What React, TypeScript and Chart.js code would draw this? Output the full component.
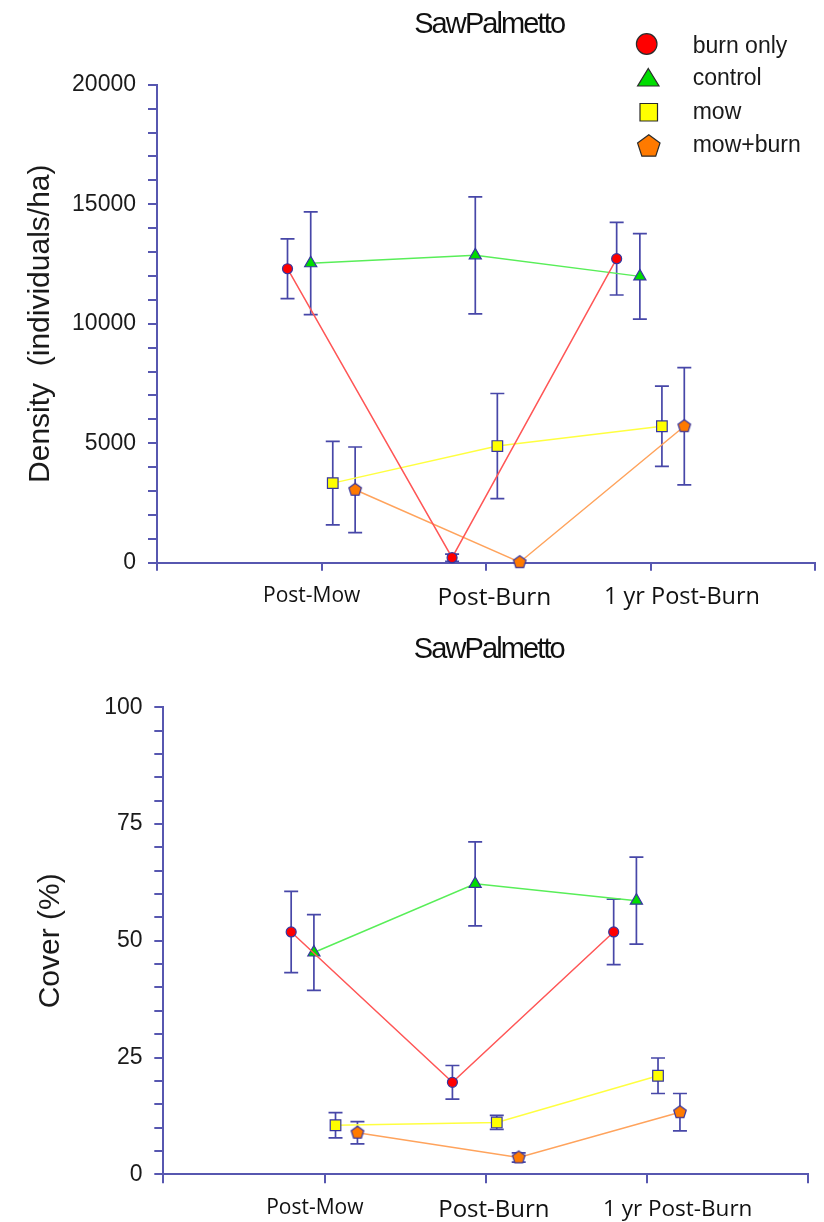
import React, { useEffect, useRef } from 'react';
import { Chart, registerables } from 'chart.js';

Chart.register(...registerables);

// ---------- data ----------
const CATEGORIES = ['Post-Mow', 'Post-Burn', '1 yr Post-Burn'];
const SERIES = ['burn only', 'control', 'mow', 'mow+burn'];

const DENSITY_BURN_ONLY = [12300, 210, 12720];
const DENSITY_BURN_ONLY_ERR = [1250, 150, 1520];
const DENSITY_CONTROL = [12530, 12860, 11980];
const DENSITY_CONTROL_ERR = [2150, 2450, 1790];
const DENSITY_MOW = [3330, 4880, 5710];
const DENSITY_MOW_ERR = [1750, 2200, 1680];
const DENSITY_MOW_BURN = [3050, 20, 5710];
const DENSITY_MOW_BURN_ERR = [1790, 0, 2450];

const COVER_BURN_ONLY = [51.9, 19.7, 51.9];
const COVER_BURN_ONLY_ERR = [8.7, 3.6, 7.0];
const COVER_CONTROL = [47.5, 62.2, 58.6];
const COVER_CONTROL_ERR = [8.1, 9.0, 9.3];
const COVER_MOW = [10.5, 11.1, 21.1];
const COVER_MOW_ERR = [2.7, 1.5, 3.8];
const COVER_MOW_BURN = [8.9, 3.6, 13.3];
const COVER_MOW_BURN_ERR = [2.4, 1.0, 4.0];

const DENSITY_TICK_LABELS = [0, 5000, 10000, 15000, 20000];
const COVER_TICK_LABELS = [0, 25, 50, 75, 100];

// ---------- styles / layout ----------
const AXIS_COLOR = '#5757b0';
const ERR_COLOR = '#4747a8';
const POINT_BORDER = '#3636a0';
const TEXT_COLOR = '#1a1a1a';
const LINE_COLORS = ['#ff5656', '#58ee58', '#ffff40', '#ffa35c'];
const FILL_COLORS = ['#ff0000', '#00dd00', '#ffff00', '#ff7a00'];
const POINT_RADII = [5, 7, 7.5, 7];
const DODGE = [-0.207, -0.066, 0.068, 0.204];
const LABEL_POS = [0.94, 2.05, 3.19];
const SANS = '"Liberation Sans", Arial, sans-serif';
const LABEL_FONT = '"Open Sans", "Noto Sans", sans-serif';

type Spec = {
  height: number;
  yMax: number;
  yStep: number;
  yLabels: number[];
  yTitle: string;
  yTitlePad: number;
  yAxisWidth: number;
  yTickPad: number;
  areaTop: number;
  padRight: number;
  xTickLen: number;
  labelAxisHeight: number;
  labelSizes: number[];
  titleBaseline: number;
  titleDx: number;
  legend: boolean;
  series: number[][];
  errors: number[][];
};

const TOP: Spec = {
  height: 612,
  yMax: 20000,
  yStep: 1000,
  yLabels: DENSITY_TICK_LABELS,
  yTitle: 'Density  (individuals/ha)',
  yTitlePad: 23,
  yAxisWidth: 157,
  yTickPad: 12,
  areaTop: 84.7,
  padRight: 3,
  xTickLen: 8,
  labelAxisHeight: 41.3,
  labelSizes: [21, 24.5, 23.5],
  titleBaseline: 33.3,
  titleDx: 3,
  legend: true,
  series: [DENSITY_BURN_ONLY, DENSITY_CONTROL, DENSITY_MOW, DENSITY_MOW_BURN],
  errors: [DENSITY_BURN_ONLY_ERR, DENSITY_CONTROL_ERR, DENSITY_MOW_ERR, DENSITY_MOW_BURN_ERR],
};

const BOTTOM: Spec = {
  height: 610,
  yMax: 100,
  yStep: 5,
  yLabels: COVER_TICK_LABELS,
  yTitle: 'Cover (%)',
  yTitlePad: 33,
  yAxisWidth: 163.3,
  yTickPad: 11.7,
  areaTop: 95.3,
  padRight: 15.7,
  xTickLen: 9,
  labelAxisHeight: 38.7,
  labelSizes: [21, 24, 22.5],
  titleBaseline: 46.3,
  titleDx: 3,
  legend: false,
  series: [COVER_BURN_ONLY, COVER_CONTROL, COVER_MOW, COVER_MOW_BURN],
  errors: [COVER_BURN_ONLY_ERR, COVER_CONTROL_ERR, COVER_MOW_ERR, COVER_MOW_BURN_ERR],
};

function pentagonPath(ctx: CanvasRenderingContext2D, cx: number, cy: number, r: number) {
  ctx.beginPath();
  for (let k = 0; k < 5; k++) {
    const a = -Math.PI / 2 + (k * 2 * Math.PI) / 5;
    const px = cx + r * Math.cos(a);
    const py = cy + r * Math.sin(a);
    if (k === 0) ctx.moveTo(px, py);
    else ctx.lineTo(px, py);
  }
  ctx.closePath();
}

function makePentagon(r: number, fill: string, stroke: string, lw: number) {
  const size = Math.ceil(2 * r + 2 * lw + 2);
  const c = document.createElement('canvas');
  c.width = size;
  c.height = size;
  const g = c.getContext('2d')!;
  pentagonPath(g, size / 2, size / 2, r);
  g.fillStyle = fill;
  g.fill();
  g.strokeStyle = stroke;
  g.lineWidth = lw;
  g.stroke();
  return c;
}

const errorBarPlugin = {
  id: 'errorBars',
  beforeDatasetsDraw(chart: any) {
    const { ctx } = chart;
    const xs = chart.scales.x;
    const ys = chart.scales.y;
    ctx.save();
    ctx.strokeStyle = ERR_COLOR;
    ctx.lineWidth = 1.7;
    chart.data.datasets.forEach((ds: any) => {
      ds.data.forEach((p: any) => {
        if (!p.err) return;
        const px = xs.getPixelForValue(p.x);
        const top = ys.getPixelForValue(p.y + p.err);
        const bot = ys.getPixelForValue(p.y - p.err);
        ctx.beginPath();
        ctx.moveTo(px, top);
        ctx.lineTo(px, bot);
        ctx.moveTo(px - 7, top);
        ctx.lineTo(px + 7, top);
        ctx.moveTo(px - 7, bot);
        ctx.lineTo(px + 7, bot);
        ctx.stroke();
      });
    });
    ctx.restore();
  },
};

function makeTitlePlugin(text: string, baseline: number, dx: number) {
  return {
    id: 'sawTitle',
    afterDraw(chart: any) {
      const { ctx, chartArea } = chart;
      ctx.save();
      ctx.font = `29px ${SANS}`;
      (ctx as any).letterSpacing = '-1.9px';
      ctx.fillStyle = '#111';
      ctx.textAlign = 'center';
      ctx.textBaseline = 'alphabetic';
      ctx.fillText(text, (chartArea.left + chartArea.right) / 2 + dx, baseline);
      ctx.restore();
    },
  };
}

const legendPlugin = {
  id: 'sawLegend',
  afterDraw(chart: any) {
    const { ctx } = chart;
    const stroke = '#2b2b2b';
    ctx.save();
    ctx.lineWidth = 1.2;
    ctx.strokeStyle = stroke;
    // circle
    ctx.beginPath();
    ctx.arc(646.7, 44, 10.3, 0, Math.PI * 2);
    ctx.fillStyle = FILL_COLORS[0];
    ctx.fill();
    ctx.stroke();
    // triangle
    ctx.beginPath();
    ctx.moveTo(648.3, 68.5);
    ctx.lineTo(659, 86);
    ctx.lineTo(637.6, 86);
    ctx.closePath();
    ctx.fillStyle = FILL_COLORS[1];
    ctx.fill();
    ctx.stroke();
    // square
    ctx.beginPath();
    ctx.rect(640, 103.5, 17.5, 17.5);
    ctx.fillStyle = FILL_COLORS[2];
    ctx.fill();
    ctx.stroke();
    // pentagon
    pentagonPath(ctx, 648.8, 146.6, 11.8);
    ctx.fillStyle = FILL_COLORS[3];
    ctx.fill();
    ctx.stroke();
    // labels
    ctx.fillStyle = TEXT_COLOR;
    ctx.font = `23px ${SANS}`;
    ctx.textAlign = 'left';
    ctx.textBaseline = 'alphabetic';
    const baselines = [52.8, 85.2, 118.6, 152];
    SERIES.forEach((s, i) => ctx.fillText(s, 692.7, baselines[i]));
    ctx.restore();
  },
};

function ChartPanel({ spec }: { spec: Spec }) {
  const ref = useRef<HTMLCanvasElement>(null);
  useEffect(() => {
    const canvas = ref.current!;
    const pent = makePentagon(6.6, FILL_COLORS[3], POINT_BORDER, 1.2);
    const styles: any[] = ['circle', 'triangle', 'rect', pent];
    const datasets = spec.series.map((vals, s) => ({
      label: SERIES[s],
      data: vals.map((v, i) => ({ x: i + 1 + DODGE[s], y: v, err: spec.errors[s][i] })),
      showLine: true,
      borderColor: LINE_COLORS[s],
      borderWidth: 1.5,
      pointStyle: styles[s],
      pointRadius: POINT_RADII[s],
      pointBackgroundColor: FILL_COLORS[s],
      pointBorderColor: POINT_BORDER,
      pointBorderWidth: 1.2,
      clip: false as any,
    }));
    const plugins: any[] = [errorBarPlugin, makeTitlePlugin('SawPalmetto', spec.titleBaseline, spec.titleDx)];
    if (spec.legend) plugins.push(legendPlugin);
    const chart = new Chart(canvas, {
      type: 'scatter',
      data: { datasets: datasets as any },
      plugins,
      options: {
        animation: false,
        responsive: false,
        devicePixelRatio: 1,
        events: [],
        layout: { padding: { top: spec.areaTop, right: spec.padRight, left: 0, bottom: 0 } },
        plugins: { legend: { display: false }, title: { display: false }, tooltip: { enabled: false } },
        scales: {
          x: {
            type: 'linear',
            position: 'bottom',
            weight: 0,
            min: 0,
            max: 4,
            ticks: { stepSize: 1, display: false },
            grid: { drawOnChartArea: false, drawTicks: true, tickLength: spec.xTickLen, color: AXIS_COLOR, lineWidth: 2 },
            border: { color: AXIS_COLOR, width: 2 },
            afterFit: (s: any) => { s.height = spec.xTickLen; },
          },
          xl: {
            type: 'linear',
            position: 'bottom',
            weight: 1,
            min: 0,
            max: 4,
            grid: { display: false, drawTicks: false },
            border: { display: false },
            afterBuildTicks: (s: any) => { s.ticks = LABEL_POS.map((v) => ({ value: v })); },
            ticks: {
              autoSkip: false,
              maxRotation: 0,
              minRotation: 0,
              padding: 12.5,
              color: '#111',
              callback: (_v: any, i: number) => CATEGORIES[i],
              font: (c: any) => ({ family: LABEL_FONT, size: spec.labelSizes[c.index] ?? 24 }),
            },
            afterFit: (s: any) => { s.height = spec.labelAxisHeight; },
          },
          y: {
            type: 'linear',
            position: 'left',
            min: 0,
            max: spec.yMax,
            ticks: {
              stepSize: spec.yStep,
              autoSkip: false,
              padding: spec.yTickPad,
              color: TEXT_COLOR,
              font: { family: SANS, size: 23 },
              callback: (v: any) => (spec.yLabels.includes(Number(v)) ? String(v) : ''),
            },
            grid: { drawOnChartArea: false, drawTicks: true, tickLength: 9, color: AXIS_COLOR, lineWidth: 2 },
            border: { color: AXIS_COLOR, width: 2 },
            title: {
              display: true,
              text: spec.yTitle,
              color: TEXT_COLOR,
              font: { family: SANS, size: 30 },
              padding: { top: spec.yTitlePad, bottom: 0 },
            },
            afterFit: (s: any) => { s.width = spec.yAxisWidth; },
          },
        },
      } as any,
    });
    return () => chart.destroy();
  }, [spec]);
  return (
    <canvas
      ref={ref}
      width={824}
      height={spec.height}
      style={{ display: 'block', width: 824, height: spec.height }}
    />
  );
}

export default function App() {
  useEffect(() => {
    document.body.style.margin = '0';
    document.body.style.background = '#ffffff';
  }, []);
  return (
    <div style={{ width: 824, background: '#ffffff' }}>
      <ChartPanel spec={TOP} />
      <ChartPanel spec={BOTTOM} />
    </div>
  );
}
